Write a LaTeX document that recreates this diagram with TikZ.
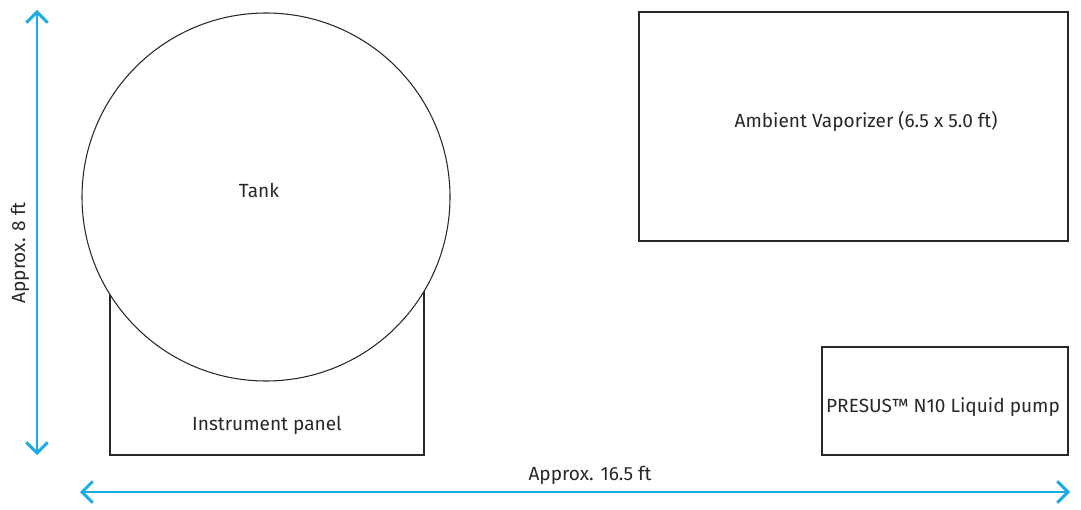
\documentclass[tikz,border=0pt]{standalone}
\usepackage{fontspec}
\setmainfont{Fira Sans}
\usetikzlibrary{arrows.meta}
\definecolor{dimblue}{RGB}{27,172,228}
\definecolor{lineg}{RGB}{40,40,40}

\begin{document}
\begin{tikzpicture}[x=0.75pt,y=-0.75pt,
   every node/.style={font=\fontsize{14.3}{16}\selectfont,text=lineg},
   part/.style={draw=lineg,line width=0.8pt,inner sep=0pt},
   dimline/.style={draw=dimblue,line width=2.2pt,
      {Straight Barb[length=8pt,width=16pt,line width=2.2pt]}-{Straight Barb[length=8pt,width=16pt,line width=2.2pt]}}]
\useasboundingbox (0,0) rectangle (1081,510);
\node[part,rectangle,minimum width=314*0.75pt,minimum height=205*0.75pt] (panel) at (267,352.5) {};
\node[part,circle,fill=white,minimum size=368*0.75pt] (tank) at (266,197) {};
\node (tanklab) at (259,190) {Tank};
\node (panellab) at (267,425) {Instrument panel};
\node[part,rectangle,minimum width=429*0.75pt,minimum height=229*0.75pt] (vap) at (853.5,126.5) {};
\node (vaplab) at (866,121) {Ambient Vaporizer (6.5 x 5.0 ft)};
\node[part,rectangle,minimum width=246*0.75pt,minimum height=108*0.75pt] (pump) at (945,401) {};
\node (pumplab) at (943,407) {PRESUS™ N10 Liquid pump};
\coordinate (htop) at (37,10);
\coordinate (hbot) at (37,455);
\coordinate (wl) at (80,492);
\coordinate (wr) at (1070,492);
\draw[dimline] (htop) -- (hbot);
\draw[dimline] (wl) -- (wr);
\node[rotate=90] (hlab) at (20,253) {Approx. 8 ft};
\node (wlab) at (590,475) {Approx. 16.5 ft};
\end{tikzpicture}
\end{document}
